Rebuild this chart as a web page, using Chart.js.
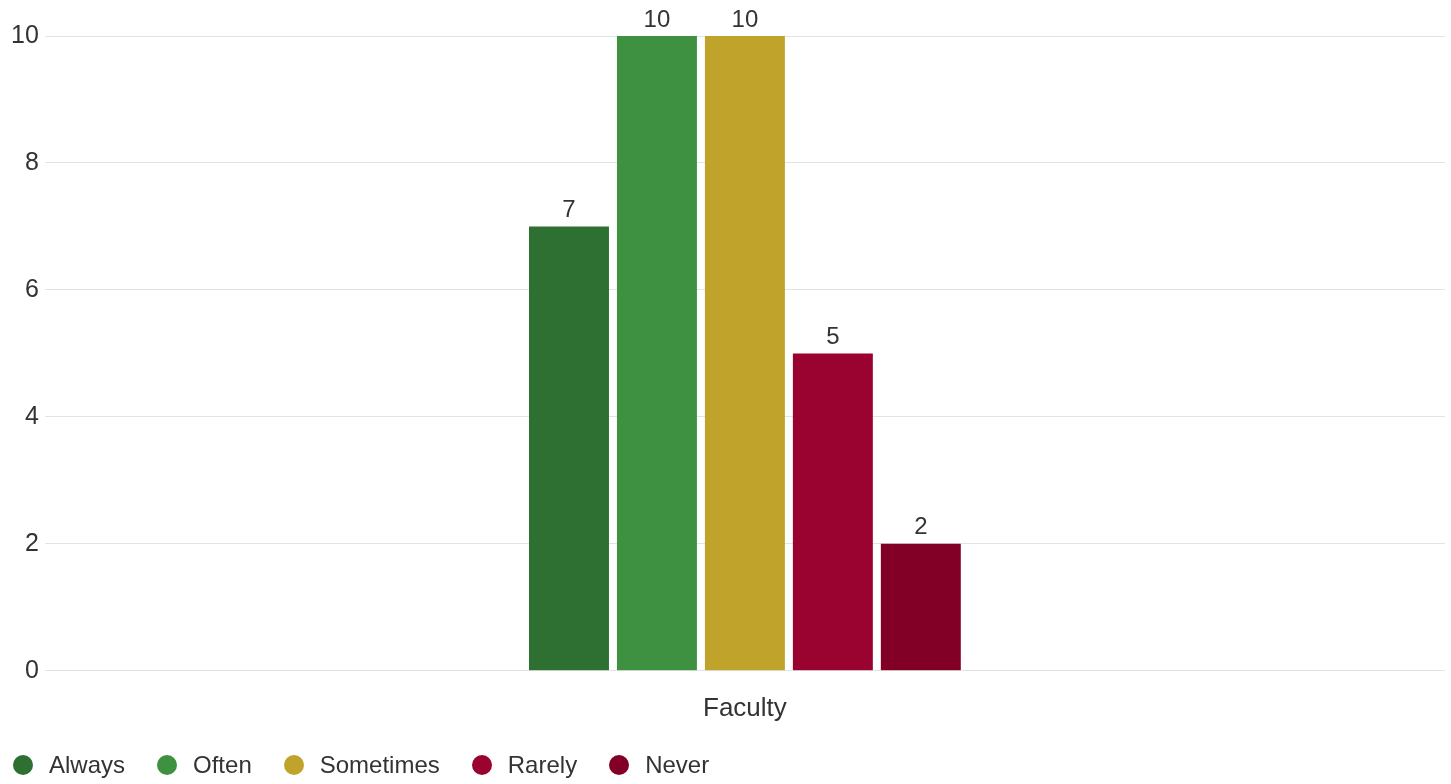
<!DOCTYPE html>
<html>
<head>
<meta charset="utf-8">
<script src="https://cdn.jsdelivr.net/npm/chart.js@4/dist/chart.umd.min.js"></script>
<style>
  body { margin: 0; background: #fff; font-family: 'Liberation Sans', Arial, sans-serif; }
  #wrap { position: relative; width: 1451px; height: 784px; }
  #legenda { position: absolute; left: 13px; top: 751px; display: flex; font-size: 24px; color: #333; }
  #legenda .item { display: flex; align-items: center; margin-right: 32px; }
  #legenda .ponto { width: 20px; height: 20px; border-radius: 50%; margin-right: 16px; }
</style>
</head>
<body>
<div id="wrap">
  <canvas id="grafico" width="1451" height="784"></canvas>
  <div id="legenda"></div>
</div>
<script>
let categorias = ['Faculty']
let series = ['Always', 'Often', 'Sometimes', 'Rarely', 'Never']
let valores = [[7], [10], [10], [5], [2]]
let cores = ['#2e7032', '#3d9140', '#c0a32a', '#9a0330', '#820026']
let ticksY = [0, 2, 4, 6, 8, 10]

Chart.defaults.font.family = "'Liberation Sans', Arial, sans-serif"
Chart.defaults.color = '#333'

// numero em cima de cada barra
const rotulos = {
  id: 'rotulos',
  afterDatasetsDraw(chart) {
    const ctx = chart.ctx
    ctx.save()
    ctx.font = "24px 'Liberation Sans', Arial, sans-serif"
    ctx.fillStyle = '#333'
    ctx.textAlign = 'center'
    ctx.textBaseline = 'bottom'
    chart.data.datasets.forEach((ds, i) => {
      chart.getDatasetMeta(i).data.forEach((bar, j) => {
        ctx.fillText(ds.data[j], bar.x, bar.y - 4)
      })
    })
    ctx.restore()
  }
}

new Chart(document.getElementById('grafico'), {
  type: 'bar',
  data: {
    labels: categorias,
    datasets: series.map((nome, i) => ({
      label: nome,
      data: valores[i],
      backgroundColor: cores[i],
      categoryPercentage: 0.3141,
      barPercentage: 0.909
    }))
  },
  options: {
    responsive: false,
    animation: false,
    layout: { padding: { left: 5, right: 6, top: 36, bottom: 46 } },
    plugins: { legend: { display: false }, tooltip: { enabled: false } },
    scales: {
      x: {
        grid: { display: false },
        border: { display: false },
        ticks: { font: { size: 26 }, padding: 14 }
      },
      y: {
        min: 0,
        max: 10,
        afterBuildTicks: axis => { axis.ticks = ticksY.map(v => ({ value: v })) },
        grid: { color: '#e3e3e3', drawTicks: false },
        border: { display: false },
        ticks: { font: { size: 25 }, padding: 6 }
      }
    }
  },
  plugins: [rotulos]
})

let legendaDiv = document.getElementById('legenda')
series.forEach((nome, i) => {
  legendaDiv.innerHTML += `<div class="item"><span class="ponto" style="background:${cores[i]}"></span>${nome}</div>`
})
</script>
</body>
</html>
